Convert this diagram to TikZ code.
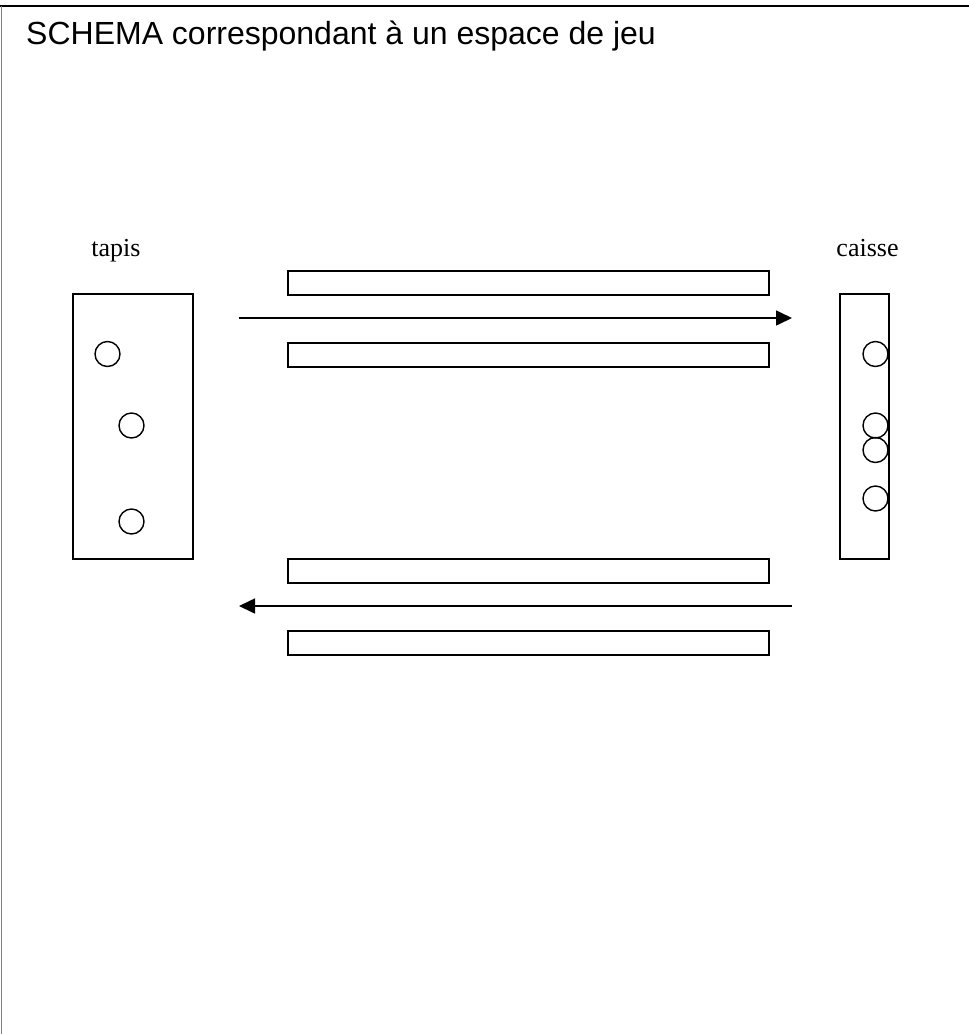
\documentclass[tikz,border=0pt]{standalone}
\usepackage{fontspec}
\setmainfont{Liberation Serif}
\newfontfamily\arialfont{Liberation Sans}
\usetikzlibrary{arrows.meta}
\begin{document}
\begin{tikzpicture}[x=1pt,y=-1pt,
  box/.style={draw,line width=1.6pt,inner sep=0pt,anchor=north west},
  bar/.style={draw,line width=1.6pt,inner sep=0pt,anchor=north west,minimum width=481pt,minimum height=24pt},
  token/.style={draw,circle,line width=1.4pt,inner sep=0pt,minimum size=25pt},
  label/.style={font=\fontsize{26}{30}\selectfont,inner sep=0pt,anchor=base},
  flow/.style={line width=1.6pt,-{Triangle[length=16pt,width=15pt]}}]
\useasboundingbox (0,0) rectangle (969,1034);
\fill[white] (0,0) rectangle (969,1034);
% frame
\coordinate (tl) at (0,6);
\coordinate (tr) at (969,6);
\coordinate (bl) at (1,1034);
\draw[line width=2.2pt] (tl) -- (tr);
\draw[line width=1pt,gray] (1,6) -- (bl);
% title
\node[anchor=base west,inner sep=0pt,font=\arialfont\fontsize{32}{36}\selectfont] (title) at (26,44) {SCHEMA correspondant à un espace de jeu};
% labels
\node[label] (ltapis) at (116,256) {tapis};
\node[label] (lcaisse) at (867.5,256) {caisse};
% boxes
\node[box,minimum width=120pt,minimum height=265pt] (tapis) at (72,293) {};
\node[box,minimum width=49pt,minimum height=265pt] (caisse) at (839,293) {};
% tokens tapis
\node[token] (t1) at (107.5,354) {};
\node[token] (t2) at (131.5,425.5) {};
\node[token] (t3) at (131.5,521.5) {};
% tokens caisse
\node[token] (c1) at (875.5,354) {};
\node[token] (c2) at (875.5,425.5) {};
\node[token] (c3) at (875.5,450) {};
\node[token] (c4) at (875.5,498.5) {};
% bars
\node[bar] (b1) at (287,270) {};
\node[bar] (b2) at (287,342) {};
\node[bar] (b3) at (287,558) {};
\node[bar] (b4) at (287,630) {};
% arrows
\coordinate (a1s) at (239,318);
\coordinate (a1e) at (792,318);
\coordinate (a2s) at (792,606);
\coordinate (a2e) at (239,606);
\draw[flow] (a1s) -- (a1e);
\draw[flow] (a2s) -- (a2e);
\end{tikzpicture}
\end{document}
